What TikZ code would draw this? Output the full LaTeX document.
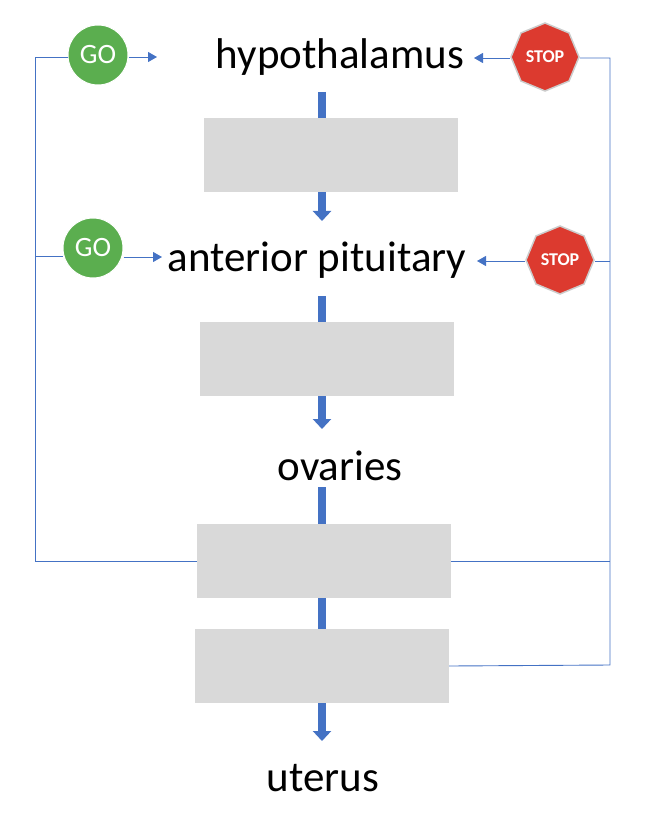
\documentclass[tikz,border=0pt]{standalone}
\usepackage{fontspec}
\setmainfont{Carlito}
\usetikzlibrary{shapes.geometric,arrows.meta}
\definecolor{bl}{HTML}{4472C4}
\definecolor{gr}{HTML}{D9D9D9}
\definecolor{gogreen}{HTML}{5BAE4F}
\definecolor{stopred}{HTML}{DC3A2F}
\tikzset{
 lbl/.style={font=\fontsize{43}{46}\selectfont, inner sep=0},
 box/.style={fill=gr, draw=none, minimum width=254pt, minimum height=74pt, inner sep=0},
 go/.style={circle, fill=gogreen, draw=white, line width=1pt, minimum size=60pt, inner sep=0, text=white, font=\fontsize{28}{30}\selectfont},
 stopsign/.style={regular polygon, regular polygon sides=8, shape border rotate=22.5, fill=stopred, draw=gray!40, line width=1.5pt, minimum size=68pt, inner sep=0, text=white, font=\bfseries\fontsize{18}{20}\selectfont},
 thin/.style={bl, line width=0.9pt},
 tarr/.style={bl, line width=0.9pt, -{Triangle[length=9pt,width=10pt]}},
 flow/.style={bl, line width=8pt},
 flowa/.style={bl, line width=8pt, -{Triangle[length=10pt,width=18pt]}},
}
\begin{document}
\begin{tikzpicture}[x=1pt,y=-1pt]
\useasboundingbox (0,0) rectangle (656,818);
\node[lbl] (hyp) at (340,57) {hypothalamus};
\node[lbl] (ant) at (317,260) {anterior pituitary};
\node[lbl] (ova) at (340,466) {ovaries};
\node[lbl] (ute) at (323,778) {uterus};
\node[box] (b1) at (331,155) {};
\node[box] (b2) at (327,359) {};
\node[box] (b3) at (324,561) {};
\node[box] (b4) at (322,666) {};
\node[go] (go1) at (98,55) {GO};
\node[go] (go2) at (93,248) {GO};
\node[stopsign] (st1) at (545,57) {STOP};
\node[stopsign] (st2) at (560,260) {STOP};
% main flow
\draw[flow] (322,92) -- (b1.north -| 322,0);
\draw[flowa] (b1.south -| 322,0) -- (322,221);
\draw[flow] (322,296) -- (b2.north -| 322,0);
\draw[flowa] (b2.south -| 322,0) -- (322,429);
\draw[flow] (322,487) -- (b3.north -| 322,0);
\draw[flow] (b3.south -| 322,0) -- (b4.north -| 322,0);
\draw[flowa] (b4.south -| 322,0) -- (322,741);
% GO arrows
\coordinate (g1t) at (157,57);
\coordinate (g2t) at (162,257);
\draw[tarr] (go1.east |- g1t) -- (g1t);
\draw[tarr] (go2.east |- g2t) -- (g2t);
% STOP arrows
\coordinate (s1t) at (474,58);
\coordinate (s2t) at (477,261);
\draw[tarr] (st1.west |- s1t) -- (s1t);
\draw[tarr] (st2.west |- s2t) -- (s2t);
% feedback lines
\draw[thin] (b3.west) -- (35,561) -- (35,57) -- (go1.west |- 0,57);
\draw[thin] (35,256) -- (go2.west |- 0,256);
\draw[thin] (b4.east) -- (610,665) -- (610,58) -- (st1.east |- 0,58);
\draw[thin] (b3.east) -- (610,561);
\draw[thin] (610,261) -- (st2.east |- 0,261);
\end{tikzpicture}
\end{document}
